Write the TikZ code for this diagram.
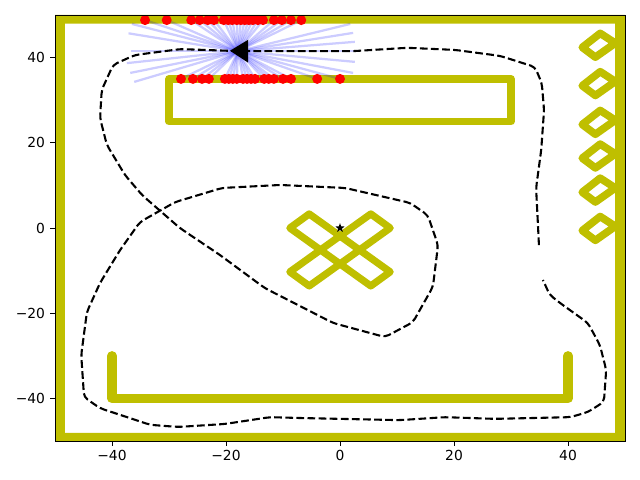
\documentclass[tikz,border=0pt]{standalone}
\usepackage{fontspec}
\setmainfont{DejaVu Sans}
\usepackage{xcolor}
\usetikzlibrary{shapes.geometric}
\definecolor{wallyellow}{HTML}{BFBF00}
\definecolor{rayblue}{HTML}{0000FF}
\definecolor{hitred}{HTML}{FF0000}

\begin{document}
\begin{tikzpicture}[
  x=0.1425cm, y=0.1065cm,
  wallline/.style={draw=wallyellow, line join=round, line cap=round},
  rayline/.style={draw=rayblue, opacity=0.2, line width=1.6pt},
  hitdot/.style={circle, fill=hitred, inner sep=0pt, minimum size=0.25cm},
  routeline/.style={draw=black, line width=1.48pt, dash pattern=on 5.5pt off 2.4pt, rounded corners=3pt},
  ticklab/.style={font=\fontsize{9.85}{12}\selectfont, inner sep=0pt, text=black},
  axline/.style={draw=black, line width=0.7pt}
]

\useasboundingbox (-59.65,-59.15) rectangle (52.63,53.52);

%% outer wall, as a band inside the axes
\fill[wallyellow, even odd rule] (-50,-50) rectangle (50,50)
  (-48.25,-48.1) rectangle (48.25,48);

%% top box and bottom channel
\draw[wallline, line width=0.19cm] (-30,25) rectangle (30,35);
\draw[wallline, line width=0.235cm] (-40,-30) -- (-40,-40) -- (40,-40) -- (40,-30);

%% crossed bars in the middle
\draw[wallline, line width=0.18cm] (-8.8,0) -- (-5.4,3.3) -- (8.8,-10.3) -- (5.4,-13.6) -- cycle;
\draw[wallline, line width=0.18cm] (8.8,0) -- (5.4,3.3) -- (-8.8,-10.3) -- (-5.4,-13.6) -- cycle;

%% small tilted bars on the right
\foreach \cy in {42.9,33.9,24.8,16.9,8.9,-0.1} {
  \draw[wallline, line width=0.19cm] (42.5,\cy-0.5) -- (45.65,\cy+2.8)
    -- (48.3,\cy+0.5) -- (44.8,\cy-2.8) -- cycle;
}

%% rays from the vehicle
\coordinate (robot) at (-17.9,41.5);
\foreach \xe in {-34.2,-30.4,-26.1,-24.6,-23.2,-22.1,-20.4,-19.6,-18.9,-18.1,-17.4,-16.7,-16,-15.3,-14.4,-13.5,-11.6,-10.2,-8.6,-6.8} {
  \draw[rayline] (robot) -- (\xe,48.8);
}
\foreach \xe in {-27.9,-25.8,-24.2,-23,-20.2,-19.5,-18.8,-18.1,-17,-16.3,-15.6,-14.9,-13.3,-12.5,-11.6,-10,-8.6,-4,0} {
  \draw[rayline] (robot) -- (\xe,35);
}
\foreach \xe/\ye in {-36.5/47.9,-37.1/45.7,-36.6/41.5,-37.4/38.7,-36.8/36.4,-36.1/34.3,
    1.8/47.9,2.3/45.8,2.6/43.7,2.6/41.5,2.6/39,2.3/36.4} {
  \draw[rayline] (robot) -- (\xe,\ye);
}

%% hit points
\foreach \xe in {-34.2,-30.4,-26.1,-24.6,-23.2,-22.1,-20.4,-19.6,-18.9,-18.1,-17.4,-16.7,-16,-15.3,-14.4,-13.5,-11.6,-10.2,-8.6,-6.8} {
  \node[hitdot] at (\xe,48.8) {};
}
\foreach \xe in {-27.9,-25.8,-24.2,-23,-20.2,-19.5,-18.8,-18.1,-17,-16.3,-15.6,-14.9,-13.3,-12.5,-11.6,-10,-8.6,-4,0} {
  \node[hitdot] at (\xe,35) {};
}

%% driven route
\draw[routeline] (34.9,-4) -- (34.6,4.2) -- (34.4,9.4) -- (35.3,18.3) -- (35.8,27.7)
  -- (35.4,34) -- (34.2,37.8) -- (28.1,40.4) -- (20.2,41.8) -- (11.8,42.3) -- (2.1,41.5) -- (-17.5,41.5)
  -- (-28,42) -- (-36,40.6) -- (-39.8,38.3) -- (-41.8,32.4) -- (-42.1,25.8)
  -- (-40.9,19.5) -- (-37.7,12.4) -- (-34.7,7.7) -- (-28.1,0) -- (-21.1,-6.3)
  -- (-13.2,-14.1) -- (-1.2,-22.3) -- (7.9,-25.6) -- (12.8,-22.1) -- (16.3,-13.8)
  -- (17.2,-4) -- (15.4,3) -- (12.3,5.9) -- (0.9,9.4) -- (-10.5,10.1) -- (-20.7,9.4)
  -- (-28.9,6.1) -- (-35.1,1.4) -- (-38.6,-5.2) -- (-42.1,-12.9) -- (-44.4,-19.7)
  -- (-45.4,-29.8) -- (-44.9,-39.7) -- (-42.1,-42.3) -- (-33.3,-46.2) -- (-28.4,-46.7)
  -- (-20.2,-46) -- (-12.3,-44.4) -- (-7,-44.6) -- (10.5,-45.1) -- (18.4,-44.4)
  -- (27.2,-44.8) -- (40.4,-44.4) -- (43.5,-43.2) -- (46.3,-40.8) -- (46.7,-33.3)
  -- (45.6,-27.5) -- (43.5,-22.3) -- (38.6,-17.6) -- (36.8,-15.7) -- (35.6,-12.2);

%% vehicle and goal
\fill[black] (-19.3,41.6) -- (-16.1,44.2) -- (-16.1,38.8) -- cycle;
\node[star, star points=5, star point ratio=2.4, fill=black, inner sep=0pt, minimum size=0.24cm] (goal) at (0,0) {};

%% axes frame, ticks, labels
\draw[axline] (-50,-50) rectangle (50,50);
\foreach \v/\lab in {-40/−40,-20/−20,0/0,20/20,40/40} {
  \draw[axline] (\v,-50) -- ++(0,-1.15);
  \node[ticklab, anchor=north] (xlab\v) at (\v,-52.2) {\lab};
  \draw[axline] (-50,\v) -- ++(-0.86,0);
  \node[ticklab, anchor=east] (ylab\v) at (-51.7,\v) {\lab};
}

\end{tikzpicture}
\end{document}
